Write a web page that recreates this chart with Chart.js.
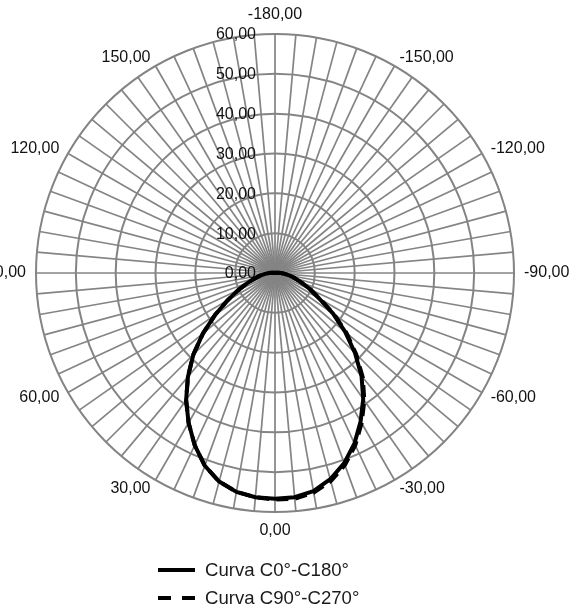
<!DOCTYPE html>
<html>
<head>
<meta charset="utf-8">
<script src="https://cdn.jsdelivr.net/npm/chart.js@4.4.1/dist/chart.umd.min.js"></script>
<style>
  html, body { margin: 0; padding: 0; background: #fff; }
  #wrap { position: relative; width: 582px; height: 610px; overflow: hidden; }
  #c { position: absolute; left: 0; top: 0; }
  #legend { position: absolute; left: 158px; top: 556px; font-family: "Liberation Sans", Arial, sans-serif; font-size: 18.6px; color: #1a1a1a; }
  .row { display: flex; align-items: center; height: 28px; white-space: nowrap; }
  .row svg { margin-right: 10px; display: block; }
</style>
</head>
<body>
<div id="wrap">
  <canvas id="c" width="582" height="610" style="width:582px;height:610px"></canvas>
  <div id="legend"></div>
</div>
<script>
// Angles (gamma, degrees), clockwise from the top of the diagram
const angles = [-180,-175,-170,-165,-160,-155,-150,-145,-140,-135,-130,-125,-120,-115,-110,-105,-100,-95,-90,-85,-80,-75,-70,-65,-60,-55,-50,-45,-40,-35,-30,-25,-20,-15,-10,-5,0,5,10,15,20,25,30,35,40,45,50,55,60,65,70,75,80,85,90,95,100,105,110,115,120,125,130,135,140,145,150,155,160,165,170,175];

// Labelled angles around the diagram
const angleTickLabels = [-180, -150, -120, -90, -60, -30, 0, 30, 60, 90, 120, 150];

// Radial ticks
const radialTicks = [0, 10, 20, 30, 40, 50, 60];

const seriesNames = ['Curva C0°-C180°', 'Curva C90°-C270°'];

// Intensity values for each angle in `angles`
const curveC0C180 = [
  0,0,0,0,0,0,0,0,0,0,0,0,0,0,0,0,
  0.3,0.8,1.5,2.5,3.8,5.2,7.2,9.8,12.8,17.8,23.0,28.4,33.8,38.6,43.0,47.2,50.8,53.6,55.6,56.5,
  56.7,
  56.5,55.8,54.2,51.5,47.7,43.4,38.9,34.0,29.0,23.6,18.4,13.8,10.2,7.4,5.3,3.8,2.5,1.5,0.8,0.3,
  0,0,0,0,0,0,0,0,0,0,0,0,0,0,0
];
const curveC90C270 = [
  0,0,0,0,0,0,0,0,0,0,0,0,0,0,0,0,
  0.3,0.8,1.5,2.5,3.8,5.2,7.2,9.8,13.1,18.2,23.4,28.8,34.3,39.1,43.5,47.7,51.3,54.1,56.0,56.9,
  56.9,
  56.5,55.8,54.2,51.5,47.7,43.4,38.9,34.0,29.0,23.6,18.4,13.8,10.2,7.4,5.3,3.8,2.5,1.5,0.8,0.3,
  0,0,0,0,0,0,0,0,0,0,0,0,0,0,0
];

const FONT = '"Liberation Sans", Arial, sans-serif';
const fmt = v => v.toFixed(2).replace('.', ',');

const labelPlugin = {
  id: 'polarLabels',
  beforeDatasetsDraw(chart) {
    const s = chart.scales.r;
    const ctx = chart.ctx;
    ctx.save();
    ctx.font = '16px ' + FONT;
    ctx.fillStyle = '#111';
    ctx.textBaseline = 'middle';
    // radial value labels, right aligned left of the top spoke
    ctx.textAlign = 'right';
    radialTicks.forEach(v => {
      const d = s.getDistanceFromCenterForValue(v);
      ctx.fillText(fmt(v), s.xCenter - 19, s.yCenter - d + 1);
    });
    // angle labels
    angleTickLabels.forEach(a => {
      const i = angles.indexOf(a);
      const p = s.getPointPosition(i, s.drawingArea + 10);
      const deg = (((a + 180) % 360) + 360) % 360;
      let x = p.x, y = p.y;
      if (deg === 0) { ctx.textAlign = 'center'; y -= 9; }
      else if (deg === 180) { ctx.textAlign = 'center'; y += 9; }
      else if (deg < 180) { ctx.textAlign = 'left'; }
      else { ctx.textAlign = 'right'; }
      ctx.fillText(fmt(a), x, y);
    });
    ctx.restore();
  }
};

const chart = new Chart(document.getElementById('c'), {
  type: 'radar',
  data: {
    labels: angles,
    datasets: [
      { label: seriesNames[0], data: curveC0C180, borderColor: '#000', borderWidth: 4, fill: false, pointRadius: 0, pointHoverRadius: 0, tension: 0, borderJoinStyle: 'round' },
      { label: seriesNames[1], data: curveC90C270, borderColor: '#000', borderWidth: 4, borderDash: [12, 7], fill: false, pointRadius: 0, pointHoverRadius: 0, tension: 0, borderJoinStyle: 'round' }
    ]
  },
  options: {
    responsive: false,
    animation: false,
    layout: { padding: { left: 36, right: 68, top: 34, bottom: 98 } },
    plugins: { legend: { display: false }, tooltip: { enabled: false } },
    scales: {
      r: {
        min: 0,
        max: 60,
        startAngle: 0,
        ticks: { display: false, stepSize: 10 },
        pointLabels: { display: false },
        grid: { circular: true, color: '#848484', lineWidth: 2 },
        angleLines: { display: true, color: '#848484', lineWidth: 1.7 }
      }
    }
  },
  plugins: [labelPlugin]
});

// HTML legend built from the chart's datasets
const legend = document.getElementById('legend');
chart.data.datasets.forEach(ds => {
  const row = document.createElement('div');
  row.className = 'row';
  const dash = ds.borderDash ? ' stroke-dasharray="13 11"' : '';
  row.innerHTML = '<svg width="37" height="28"><line x1="0" y1="14" x2="37" y2="14" stroke="' + ds.borderColor + '" stroke-width="4"' + dash + '/></svg><span>' + ds.label + '</span>';
  legend.appendChild(row);
});
</script>
</body>
</html>
